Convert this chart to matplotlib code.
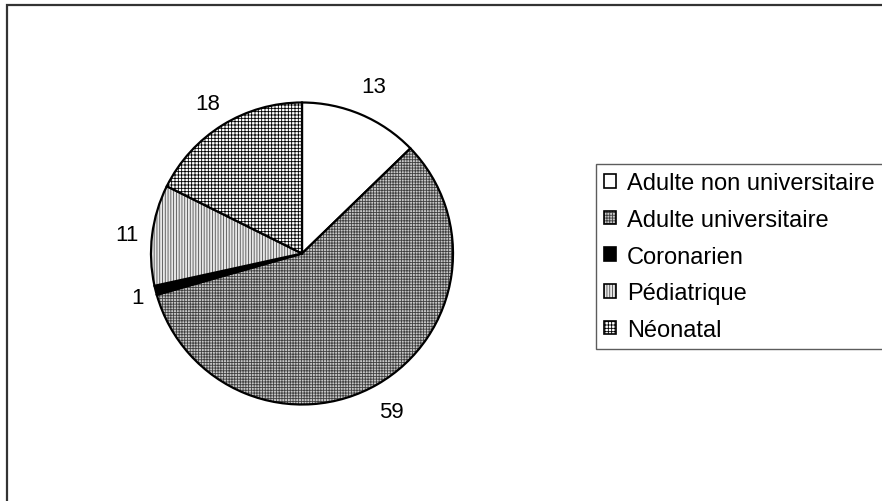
import numpy as np
import matplotlib
matplotlib.use("Agg")
import matplotlib.pyplot as plt
from matplotlib.colors import to_rgba
from matplotlib.patches import Rectangle

categories = ["Adulte non universitaire", "Adulte universitaire", "Coronarien",
              "Pédiatrique", "Néonatal"]
values = [13, 59, 1, 11, 18]

# styles
face_colors = ["white", "#c8c8c8", "black", "#e8e8e8", "white"]
hatches = [None, "++++++", None, "||||||", "+++++"]
hatch_colors = ["black", "#404040", "black", "#505050", "black"]
label_dist = [1.22, 1.19, 1.12, 1.17, 1.19]

plt.rcParams["font.family"] = ["Liberation Sans", "DejaVu Sans"]
plt.rcParams["hatch.linewidth"] = 0.6

W, H = 882, 502
fig = plt.figure(figsize=(W / 100, H / 100), dpi=100)
fig.patch.set_facecolor("white")

cx, cy, r = 302, 502 - 254.5, 151
ax = fig.add_axes([(cx - r) / W, (cy - r) / H, 2 * r / W, 2 * r / H])

wedges, _ = ax.pie(values, startangle=90, counterclock=False, radius=1,
                   colors=face_colors,
                   wedgeprops=dict(edgecolor="black", linewidth=1.6))
ax.set_xlim(-1, 1)
ax.set_ylim(-1, 1)
ax.set_aspect("equal")
ax.axis("off")

for w, h, hc in zip(wedges, hatches, hatch_colors):
    if h:
        w.set_hatch(h)
        w._hatch_color = to_rgba(hc)
        w.stale = True

for w, v, d in zip(wedges, values, label_dist):
    ang = np.deg2rad((w.theta1 + w.theta2) / 2)
    ax.text(d * np.cos(ang), d * np.sin(ang), str(v), ha="center",
            va="center_baseline", fontsize=16, color="black", clip_on=False)

leg = fig.legend(wedges, categories, loc="upper left",
                 bbox_to_anchor=(596 / W, 1 - 165 / H), borderaxespad=0,
                 fontsize=17, handlelength=0.5, handleheight=0.5,
                 handletextpad=0.45, labelspacing=0.62, borderpad=0.35,
                 frameon=True, fancybox=False, edgecolor="#333333")
leg.get_frame().set_linewidth(1.0)
for hnd in leg.legend_handles:
    hnd.set_linewidth(1.2)

fig.patches.append(Rectangle((7 / W, -0.2), 1.2, (496 / H) + 0.2,
                             transform=fig.transFigure, fill=False,
                             edgecolor="#333333", linewidth=1.6))

fig.savefig("out.png", dpi=100)
